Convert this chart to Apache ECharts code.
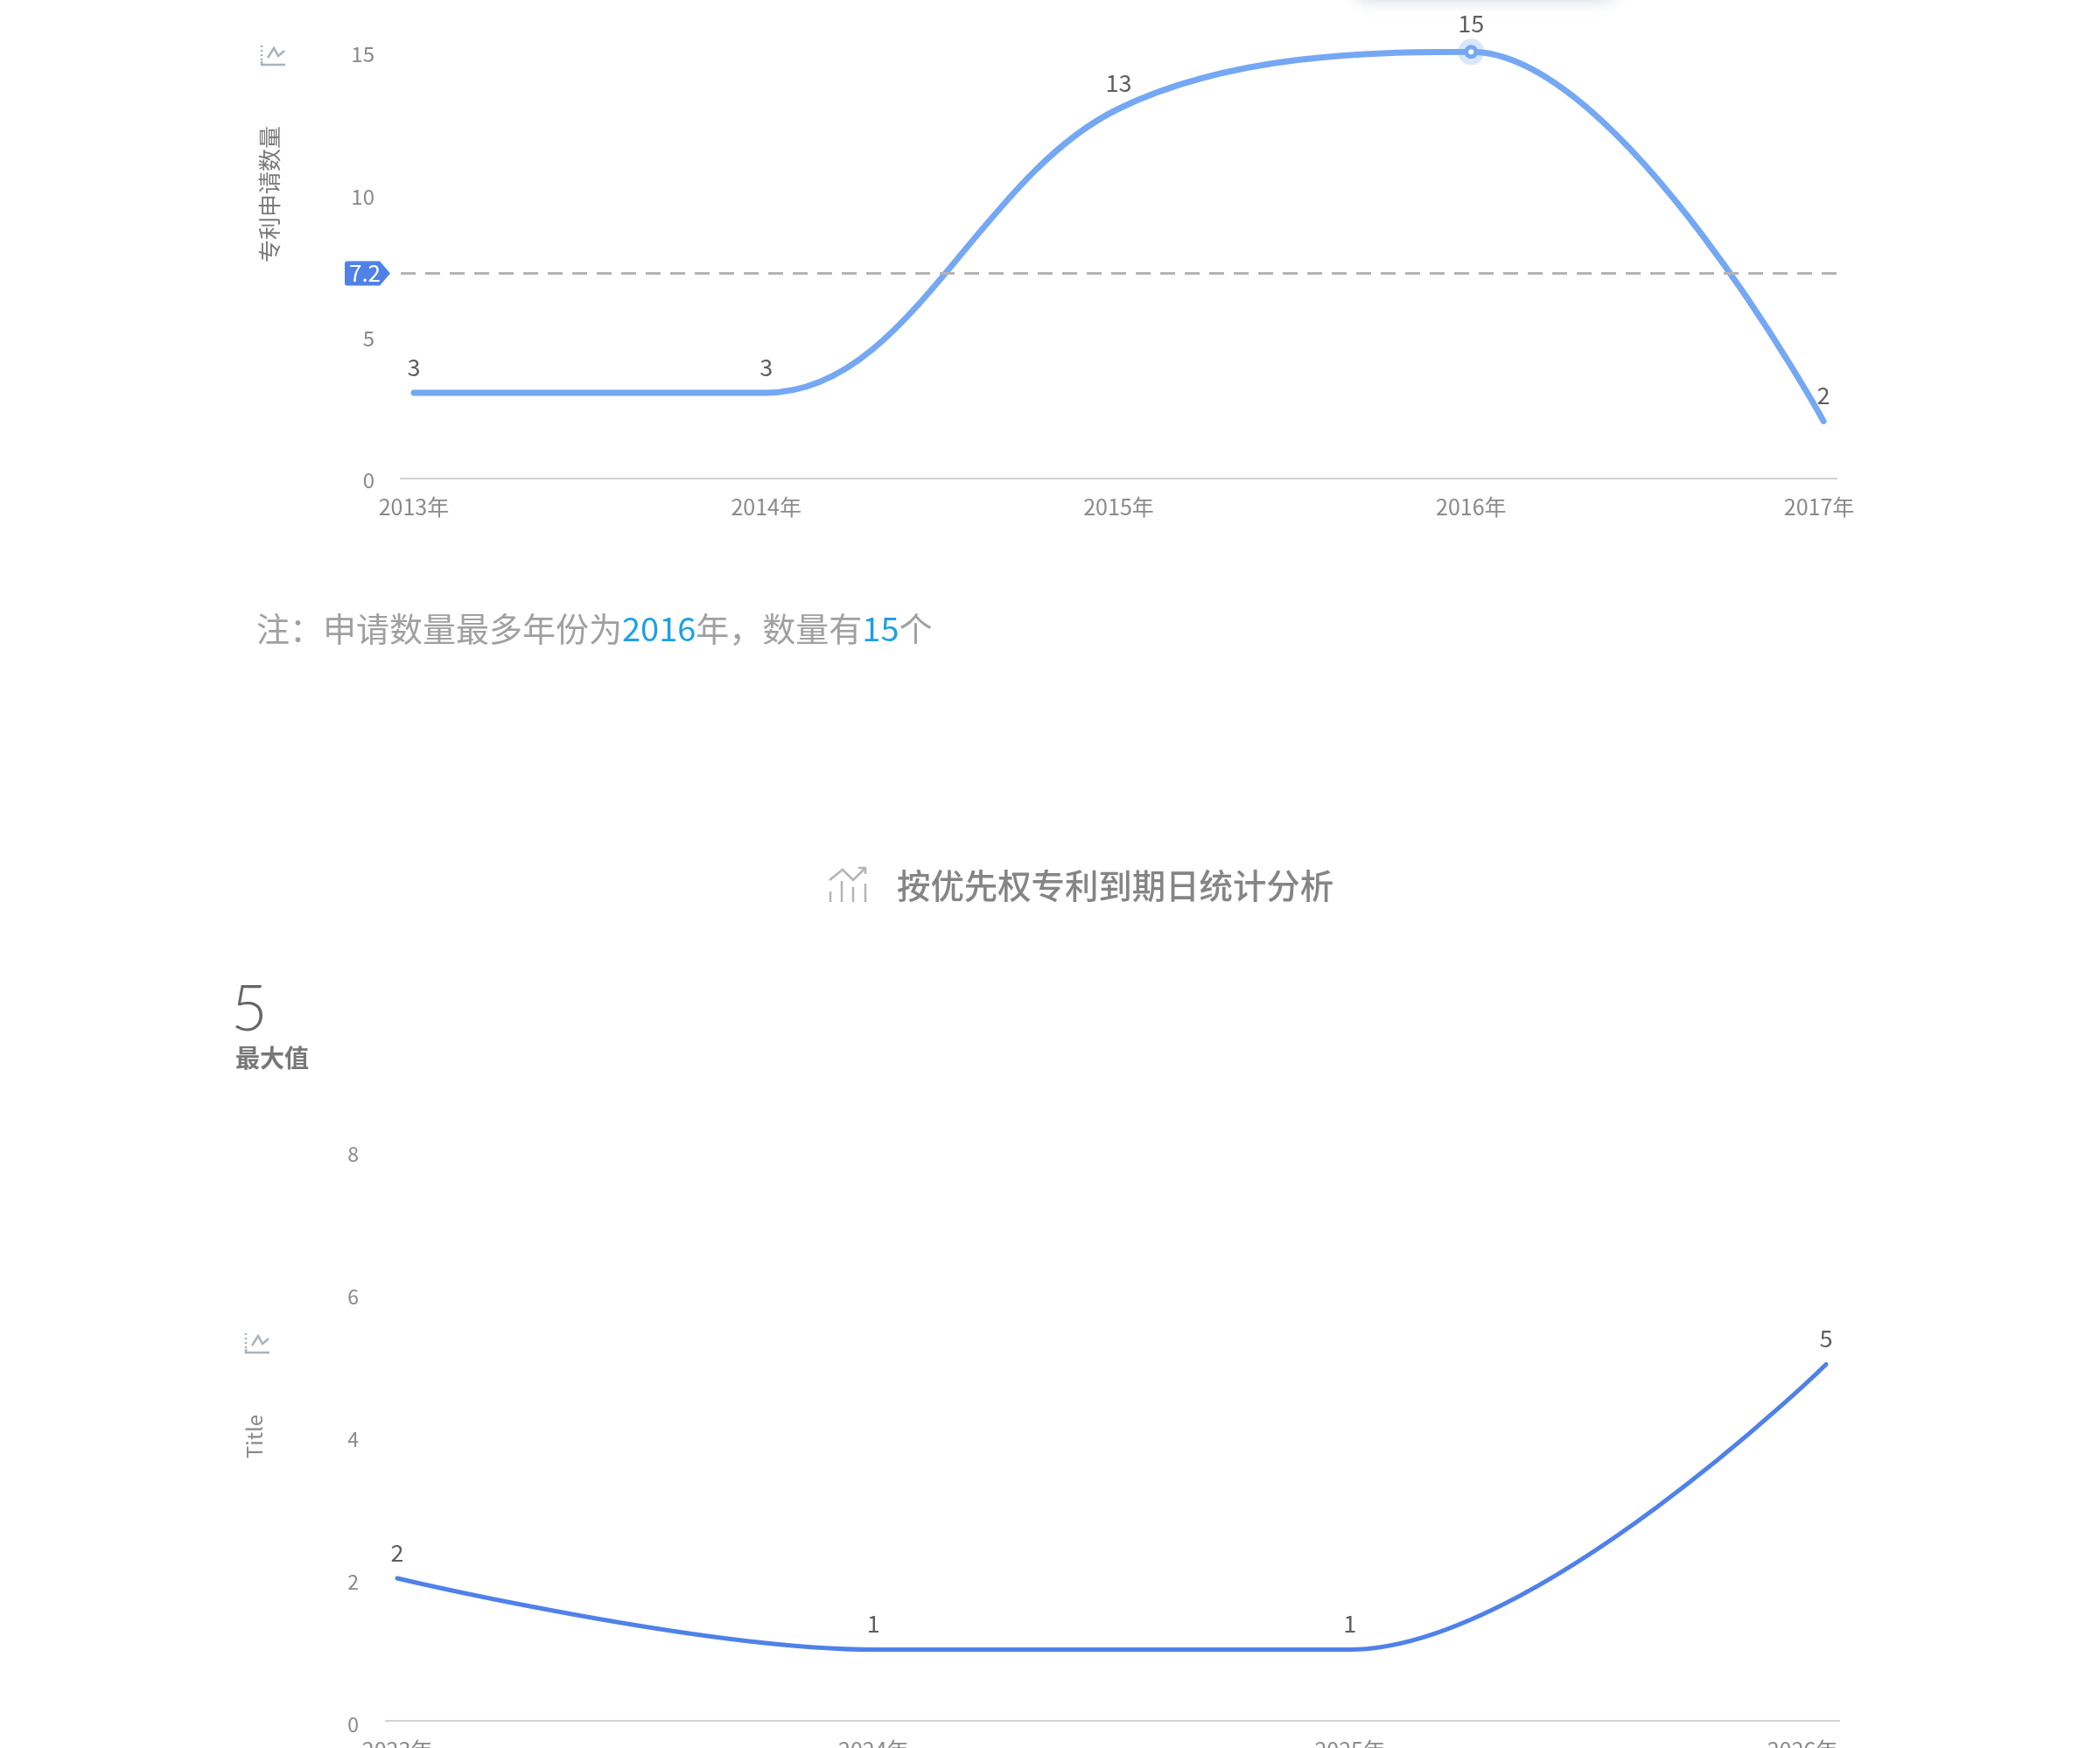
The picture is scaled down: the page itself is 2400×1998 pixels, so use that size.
<!DOCTYPE html>
<html>
<head>
<meta charset="utf-8">
<style>
  html, body { margin: 0; padding: 0; background: #fff; }
  #chart { width: 2400px; height: 1998px; }
</style>
<script src="https://cdn.jsdelivr.net/npm/echarts@6/dist/echarts.min.js"></script>
</head>
<body>
<div id="chart"></div>
<script>
// Patent filings per year
const filingYears = ['2013年', '2014年', '2015年', '2016年', '2017年'];
const filingCounts = [3, 3, 13, 15, 2];
const filingMean = 7.2;
const filingTicks = [0, 1, 2, 3, 4];

// Priority patents by expiry year
const expiryYears = ['2023年', '2024年', '2025年', '2026年'];
const expiryCounts = [2, 1, 1, 5];
const expiryTicks = [0, 1, 2, 3];

const FONT = '"Noto Sans CJK SC", "Noto Sans", sans-serif';
const TICK_COLOR = '#8a8a8a';
const VALUE_COLOR = '#5f5f5f';
const LINE_LIGHT = '#75a8f3';
const LINE_DARK = '#4f81e8';
const CURVE_SMOOTHNESS = 0.36;

const peakIndex = filingCounts.indexOf(Math.max(...filingCounts));

// Small trend glyph shown above each vertical axis title
function trendGlyph(dx, dy) {
  const stroke = { stroke: '#a8b3bb', lineWidth: 2.5, fill: null };
  return {
    type: 'group', x: dx, y: dy, silent: true,
    children: [
      { type: 'line', shape: { x1: 299, y1: 52, x2: 299, y2: 70 }, style: { ...stroke, lineDash: [2, 3] } },
      { type: 'polyline', shape: { points: [[299, 70], [299, 74], [326, 74]] }, style: stroke },
      { type: 'polyline', shape: { points: [[306, 66], [313, 55], [318, 64], [325, 58]] }, style: stroke }
    ]
  };
}

// Rising-bars glyph beside the section heading
function headingGlyph() {
  const stroke = { stroke: '#b4b4b4', lineWidth: 2.5, fill: null };
  const bars = [[949, 1019], [962, 1007], [975, 1014], [989, 1010]];
  return {
    type: 'group', silent: true,
    children: [
      { type: 'polyline', shape: { points: [[948, 1006], [963, 994], [975, 1006], [989, 992]] }, style: stroke },
      { type: 'polyline', shape: { points: [[981, 992], [989, 992], [989, 999]] }, style: stroke },
      ...bars.map(([x, top]) => ({
        type: 'line', shape: { x1: x, y1: top, x2: x, y2: 1031 }, style: stroke
      }))
    ]
  };
}

function xAxisFor(gridIndex, names, ticks, min, max, lastPad) {
  return {
    type: 'value', gridIndex, min, max,
    splitLine: { show: false },
    axisTick: { show: false },
    axisLine: { show: true, onZero: false, lineStyle: { color: '#d2d2d2', width: 2 } },
    axisLabel: {
      customValues: ticks,
      margin: 21,
      fontFamily: FONT,
      fontSize: 25,
      color: TICK_COLOR,
      formatter: value => {
        const i = Math.round(value);
        return i === names.length - 1 ? `{last|${names[i]}}` : names[i];
      },
      rich: {
        last: { fontFamily: FONT, fontSize: 25, color: TICK_COLOR, padding: [0, lastPad, 0, 0] }
      }
    }
  };
}

// Tick labels sit slightly below their tick: a short top-aligned line box nudges them down
function yAxisFor(gridIndex, max, interval, fontSize, margin, nudge) {
  return {
    type: 'value', gridIndex, min: 0, max, interval,
    splitLine: { show: false },
    axisTick: { show: false },
    axisLine: { show: false },
    axisLabel: {
      margin, fontFamily: FONT, fontSize, color: TICK_COLOR,
      verticalAlign: 'top', lineHeight: nudge * 2
    }
  };
}

const valueLabel = { show: true, position: 'top', distance: 16, fontFamily: FONT, fontSize: 27, color: VALUE_COLOR };

const option = {
  animation: false,
  backgroundColor: '#ffffff',
  grid: [
    { left: 458, top: 59.3, width: 1641, height: 487, outerBoundsMode: 'none' },
    { left: 441, top: 1315, width: 1661, height: 652, outerBoundsMode: 'none' }
  ],
  xAxis: [
    xAxisFor(0, filingYears, filingTicks, -0.0372, 4.0372, 10),
    xAxisFor(1, expiryYears, expiryTicks, -0.0239, 3.0276, 54)
  ],
  yAxis: [
    yAxisFor(0, 15, 5, 24, 30, 3),
    yAxisFor(1, 8, 2, 23, 31, 4)
  ],
  series: [
    {
      name: 'peak halo', type: 'scatter', xAxisIndex: 0, yAxisIndex: 0, z: 1, silent: true,
      data: [[peakIndex, filingCounts[peakIndex]]],
      symbolSize: 30,
      itemStyle: { color: '#cfe0fa' }
    },
    {
      name: '专利申请数量', type: 'line', xAxisIndex: 0, yAxisIndex: 0, z: 2,
      smooth: CURVE_SMOOTHNESS,
      data: filingCounts.map((v, i) => ({
        value: [i, v],
        label: { distance: i === peakIndex ? 11 : 16 }
      })),
      symbol: 'circle',
      showAllSymbol: true,
      symbolSize: (value, params) => (params.dataIndex === peakIndex ? 11 : 0),
      itemStyle: { color: '#ffffff', borderColor: LINE_LIGHT, borderWidth: 5 },
      lineStyle: { color: LINE_LIGHT, width: 7, cap: 'round' },
      label: valueLabel,
      markLine: {
        silent: true,
        symbol: 'none',
        label: { show: false },
        lineStyle: { color: '#b4b4b4', width: 3, type: [17, 11] },
        data: [{ yAxis: filingMean }]
      },
      markPoint: {
        silent: true,
        symbol: 'path://M3,0 L40,0 L52,14 L40,28 L3,28 Q0,28 0,25 L0,3 Q0,0 3,0 Z',
        symbolSize: [52, 28],
        symbolOffset: [-38, 0],
        itemStyle: { color: LINE_DARK },
        label: {
          show: true, position: 'inside', offset: [-3, 0],
          fontFamily: FONT, fontSize: 26, color: '#ffffff',
          formatter: () => String(filingMean)
        },
        data: [{ coord: [-0.0372, filingMean] }]
      }
    },
    {
      name: 'Title', type: 'line', xAxisIndex: 1, yAxisIndex: 1,
      smooth: CURVE_SMOOTHNESS,
      data: expiryCounts.map((v, i) => [i, v]),
      symbol: 'circle',
      showAllSymbol: true,
      symbolSize: 0,
      itemStyle: { color: LINE_DARK },
      lineStyle: { color: LINE_DARK, width: 5, cap: 'round' },
      label: valueLabel
    }
  ],
  graphic: [
    // Corner of a floating card that runs off the top of the page
    {
      type: 'rect', silent: true,
      shape: { x: 1552, y: -34, width: 290, height: 32, r: 6 },
      style: { fill: '#e9ecf1', shadowBlur: 18, shadowColor: 'rgba(80,100,140,0.28)', shadowOffsetY: 2 }
    },
    trendGlyph(0, 0),
    trendGlyph(-18, 1472),
    {
      type: 'text', silent: true, x: 308, y: 222, rotation: Math.PI / 2,
      style: { text: '专利申请数量', font: `26px ${FONT}`, fill: '#7a7a7a', align: 'center', verticalAlign: 'middle' }
    },
    {
      type: 'text', silent: true, x: 291, y: 1642, rotation: Math.PI / 2,
      style: { text: 'Title', font: `24px ${FONT}`, fill: '#8a8a8a', align: 'center', verticalAlign: 'middle' }
    },
    {
      type: 'text', silent: true, x: 293, y: 719,
      style: {
        text: '{g|注：申请数量最多年份为}{b|2016}{g|年，数量有}{b|15}{g|个}',
        verticalAlign: 'middle',
        rich: {
          g: { font: `38px ${FONT}`, fill: '#a0a0a0' },
          b: { font: `38px ${FONT}`, fill: '#1ea0e6' }
        }
      }
    },
    headingGlyph(),
    {
      type: 'text', silent: true, x: 1025, y: 1012,
      style: { text: '按优先权专利到期日统计分析', font: `500 38.4px ${FONT}`, fill: '#858585', verticalAlign: 'middle' }
    },
    {
      type: 'text', silent: true, x: 264, y: 1155,
      style: { text: String(Math.max(...expiryCounts)), font: '300 72px Lato, Roboto, sans-serif', fill: '#666666', verticalAlign: 'middle' }
    },
    {
      type: 'text', silent: true, x: 269, y: 1209,
      style: { text: '最大值', font: `700 28px ${FONT}`, fill: '#777777', verticalAlign: 'middle' }
    }
  ]
};

const chart = echarts.init(document.getElementById('chart'), null, { renderer: 'canvas' });
chart.setOption(option);
</script>
</body>
</html>
